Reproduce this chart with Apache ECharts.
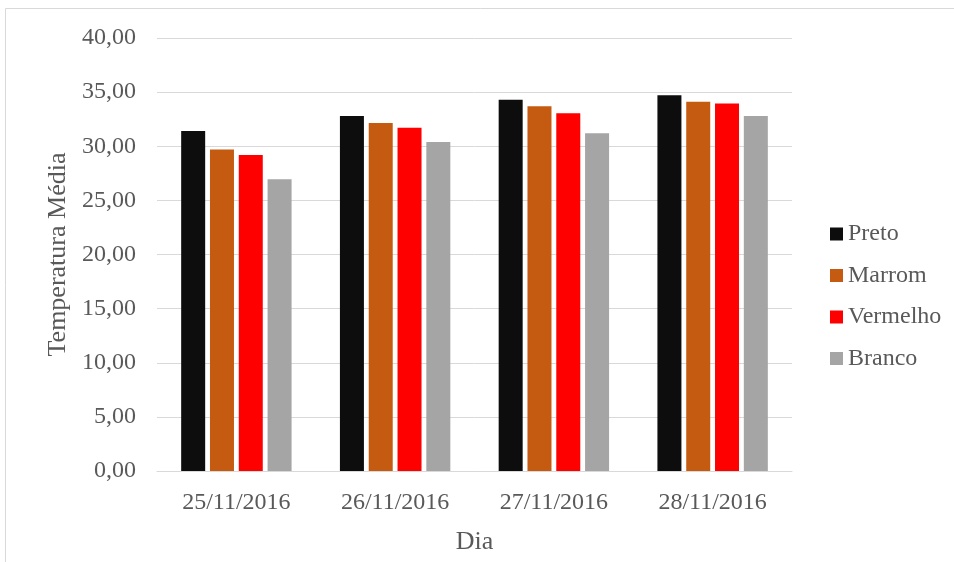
<!DOCTYPE html>
<html>
<head>
<meta charset="utf-8">
<script src="https://cdn.jsdelivr.net/npm/echarts@6/dist/echarts.min.js"></script>
<style>html,body{margin:0;padding:0;background:#fff}#c{width:954px;height:562px}</style>
</head>
<body>
<div id="c"></div>
<script>
const categories = ['25/11/2016', '26/11/2016', '27/11/2016', '28/11/2016'];
const preto = [31.4, 32.8, 34.3, 34.7];
const marrom = [29.7, 32.15, 33.7, 34.1];
const vermelho = [29.2, 31.7, 33.05, 33.95];
const branco = [26.95, 30.4, 31.2, 32.8];
const seriesNames = ['Preto', 'Marrom', 'Vermelho', 'Branco'];
const colors = ['#0d0d0d', '#c55a11', '#ff0000', '#a5a5a5'];

const font = '"Liberation Serif", "Times New Roman", serif';
const chart = echarts.init(document.getElementById('c'));
const dataSets = [preto, marrom, vermelho, branco];
chart.setOption({
  animation: false,
  color: colors,
  textStyle: { fontFamily: font },
  graphic: [{
    type: 'rect', shape: { x: 5.5, y: 8.5, width: 970, height: 570 },
    style: { fill: 'none', stroke: '#d9d9d9', lineWidth: 1 }, silent: true, z: -1
  }],
  grid: { left: 157, right: 162, top: 38, bottom: 91 },
  legend: {
    orient: 'vertical', left: 825, top: 217,
    itemWidth: 13, itemHeight: 13, itemGap: 17.5,
    icon: 'rect',
    textStyle: { fontFamily: font, fontSize: 24, color: '#595959', padding: [0, 0, 0, 0] },
    data: seriesNames
  },
  xAxis: {
    type: 'category', data: categories,
    name: 'Dia', nameLocation: 'middle', nameGap: 58,
    nameTextStyle: { fontFamily: font, fontSize: 26, color: '#595959' },
    axisLine: { lineStyle: { color: '#d9d9d9', width: 1 } },
    axisTick: { show: false },
    axisLabel: { fontFamily: font, fontSize: 24, color: '#595959', margin: 20 }
  },
  yAxis: {
    type: 'value', min: 0, max: 40, interval: 5,
    name: 'Temperatura Média', nameLocation: 'middle', nameGap: 86,
    nameTextStyle: { fontFamily: font, fontSize: 26, color: '#595959' },
    axisLine: { show: false }, axisTick: { show: false },
    splitLine: { lineStyle: { color: '#d9d9d9', width: 1 } },
    axisLabel: {
      fontFamily: font, fontSize: 24, color: '#595959', margin: 21,
      formatter: v => v.toFixed(2).replace('.', ',')
    }
  },
  series: seriesNames.map((n, i) => ({
    name: n, type: 'bar', data: dataSets[i],
    barWidth: 24, barGap: '20%',
    itemStyle: { color: colors[i] }
  }))
});
</script>
</body>
</html>
